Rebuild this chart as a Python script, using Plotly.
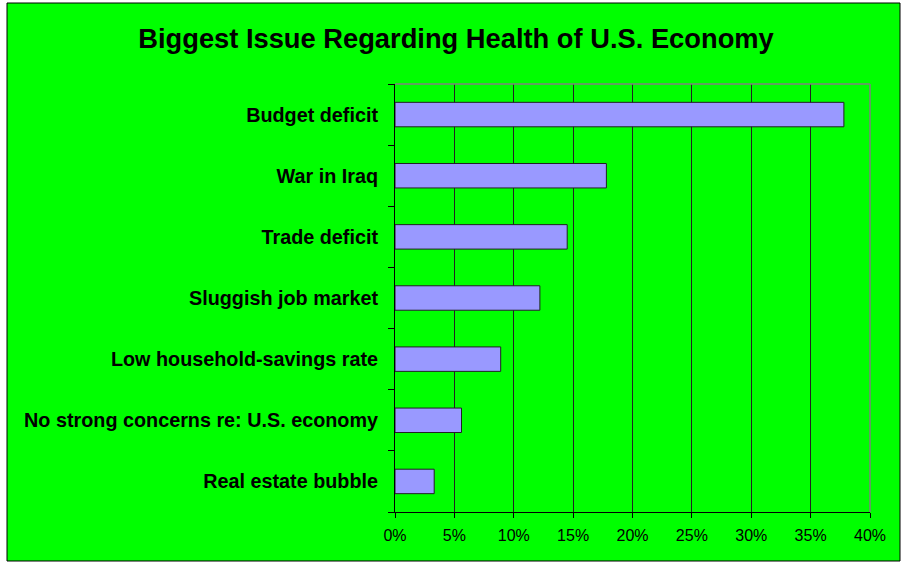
import plotly.graph_objects as go

categories = ["Budget deficit", "War in Iraq", "Trade deficit", "Sluggish job market",
              "Low household-savings rate", "No strong concerns re: U.S. economy",
              "Real estate bubble"]
values = [0.378, 0.178, 0.145, 0.122, 0.089, 0.056, 0.033]
x_ticks = [0, 0.05, 0.10, 0.15, 0.20, 0.25, 0.30, 0.35, 0.40]
x_tick_labels = ["0%", "5%", "10%", "15%", "20%", "25%", "30%", "35%", "40%"]

W, H = 904, 563
L, R, T, B = 395, 870, 84, 512

def px(x):
    return (x - L) / (R - L)

def py(y):
    return (B - y) / (B - T)

fig = go.Figure()
fig.add_trace(go.Bar(
    x=values, y=categories, orientation="h",
    marker=dict(color="#9999FF", line=dict(color="#222222", width=1)),
    width=0.4,
))

fig.update_layout(
    width=W, height=H,
    margin=dict(l=L, r=W - R, t=T, b=H - B, pad=0),
    paper_bgcolor="white",
    plot_bgcolor="white",
    showlegend=False,
    font=dict(family="Liberation Sans, Arial, sans-serif", color="black"),
    title=dict(text="<b>Biggest Issue Regarding Health of U.S. Economy</b>",
               x=456 / W, xanchor="center", y=1 - 38 / H, yanchor="middle",
               font=dict(size=27.3, color="black")),
    xaxis=dict(range=[0, 0.40], tickvals=x_ticks, ticktext=x_tick_labels,
               showgrid=True, gridcolor="#222222", gridwidth=1,
               showline=True, linecolor="black", linewidth=1,
               ticks="outside", ticklen=5, tickcolor="black", ticklabelstandoff=4,
               tickfont=dict(size=16), zeroline=False, fixedrange=True),
    yaxis=dict(categoryorder="array", categoryarray=categories[::-1],
               showline=True, linecolor="black", linewidth=1,
               ticks="outside", ticklen=6, tickcolor="black", tickson="boundaries",
               tickfont=dict(size=19.8, weight="bold"), ticklabelstandoff=12,
               showgrid=False, fixedrange=True),
    shapes=[
        dict(type="rect", xref="paper", yref="paper",
             x0=px(7), x1=px(900), y0=py(561), y1=py(3),
             fillcolor="#00FF00", line=dict(color="black", width=1), layer="below"),
        dict(type="line", xref="paper", yref="paper", x0=0, x1=1, y0=1, y1=1,
             line=dict(color="#808080", width=1.5), layer="above"),
        dict(type="line", xref="paper", yref="paper", x0=1, x1=1, y0=0, y1=1,
             line=dict(color="#808080", width=1.5), layer="above"),
    ],
)

fig.write_html("out.html")
